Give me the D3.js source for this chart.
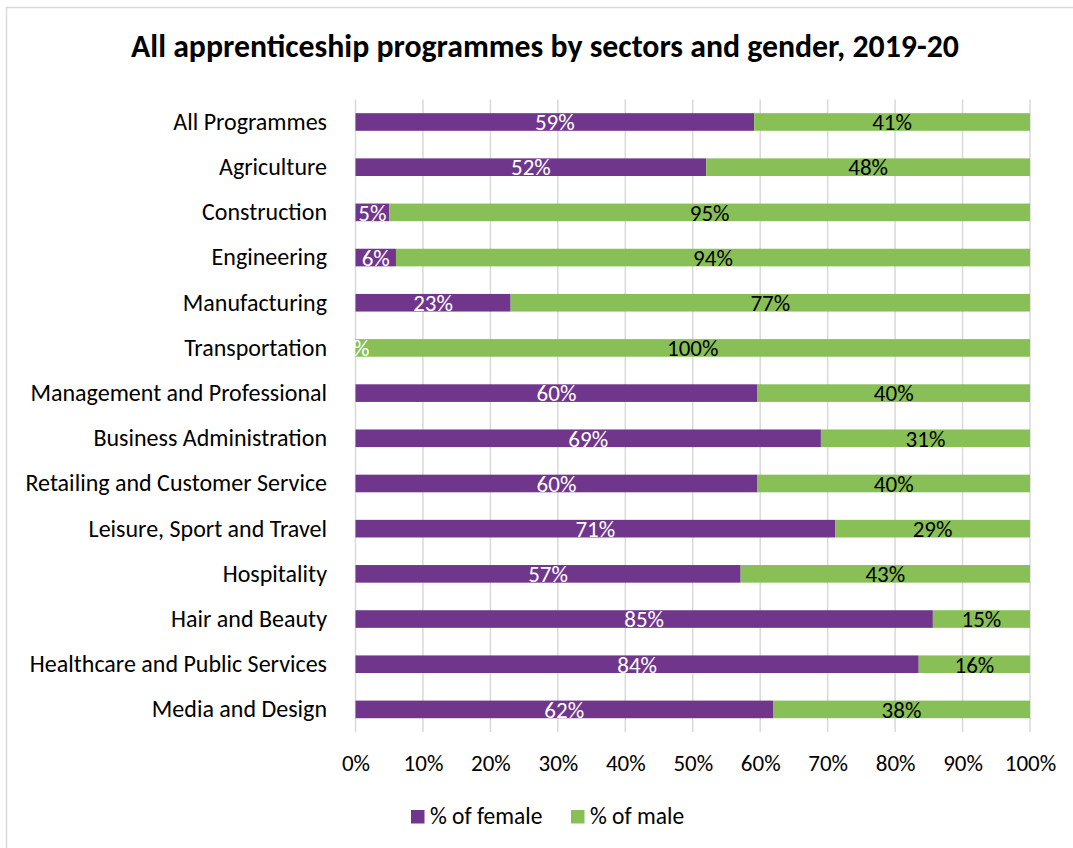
<!DOCTYPE html>
<html>
<head>
<meta charset="utf-8">
<script src="https://cdn.jsdelivr.net/npm/d3@7"></script>
<style>
  html, body { margin: 0; padding: 0; background: #fff; }
  svg { display: block; font-family: Carlito, Calibri, Lato, "Open Sans", sans-serif; }
</style>
</head>
<body>
<svg id="chart" width="1073" height="848"></svg>
<script>
// Apprenticeship programmes by sector, share of female / male, 2019-20
const sectors = [
  "All Programmes", "Agriculture", "Construction", "Engineering", "Manufacturing",
  "Transportation", "Management and Professional", "Business Administration",
  "Retailing and Customer Service", "Leisure, Sport and Travel", "Hospitality",
  "Hair and Beauty", "Healthcare and Public Services", "Media and Design"
];
const femaleShare = [0.591, 0.520, 0.050, 0.060, 0.230, 0.000, 0.596, 0.690, 0.596, 0.711, 0.571, 0.856, 0.835, 0.619];
const maleShare = femaleShare.map(f => 1 - f);
const femaleLabels = ["59%", "52%", "5%", "6%", "23%", "0%", "60%", "69%", "60%", "71%", "57%", "85%", "84%", "62%"];
const maleLabels = ["41%", "48%", "95%", "94%", "77%", "100%", "40%", "31%", "40%", "29%", "43%", "15%", "16%", "38%"];
const tickValues = [0, 0.1, 0.2, 0.3, 0.4, 0.5, 0.6, 0.7, 0.8, 0.9, 1.0];
const seriesNames = ["% of female", "% of male"];
const colors = { female: "#70368b", male: "#88c057" };

const svg = d3.select("#chart");
const W = 1073, H = 848;

// outer frame
svg.append("rect").attr("x", 6.5).attr("y", 7.5).attr("width", W + 10).attr("height", H + 10)
  .attr("fill", "#fff").attr("stroke", "#d9d9d9").attr("stroke-width", 1.5);

svg.append("text").attr("x", 545).attr("y", 57).attr("text-anchor", "middle")
  .attr("font-size", 31.8).attr("font-weight", "bold").attr("fill", "#000")
  .text("All apprenticeship programmes by sectors and gender, 2019-20");

const x = d3.scaleLinear().domain([0, 1]).range([355.5, 1030]);
const y = d3.scaleBand().domain(sectors).range([99.4, 732]).paddingInner(0.61).paddingOuter(0.305);

// vertical gridlines
svg.append("g").selectAll("line").data(tickValues).join("line")
  .attr("x1", d => x(d)).attr("x2", d => x(d))
  .attr("y1", 99.4).attr("y2", 732)
  .attr("stroke", "#d9d9d9").attr("stroke-width", 1.5);

// x axis tick labels
const xAxis = d3.axisBottom(x).tickValues(tickValues).tickFormat(d3.format(".0%")).tickSize(0).tickPadding(0);
const gx = svg.append("g").attr("transform", "translate(0,771)").call(xAxis)
  .attr("font-family", null).attr("font-size", null);
gx.select(".domain").remove();
gx.selectAll("text").attr("font-size", 23).attr("fill", "#000").attr("dy", 0).attr("y", 0);

// y axis category labels
const yAxis = d3.axisLeft(y).tickSize(0).tickPadding(28.5);
const gy = svg.append("g").attr("transform", "translate(355.5,0)").call(yAxis)
  .attr("font-family", null).attr("font-size", null);
gy.select(".domain").remove();
gy.selectAll("text").attr("font-size", 24).attr("fill", "#000").attr("dy", "0.33em");

const rows = sectors.map((s, i) => ({ s, f: femaleShare[i], m: maleShare[i], fl: femaleLabels[i], ml: maleLabels[i] }));

const bars = svg.append("g");
bars.selectAll("rect.f").data(rows).join("rect").attr("class", "f")
  .attr("x", x(0)).attr("y", d => y(d.s)).attr("height", y.bandwidth())
  .attr("width", d => x(d.f) - x(0)).attr("fill", colors.female);
bars.selectAll("rect.m").data(rows).join("rect").attr("class", "m")
  .attr("x", d => x(d.f)).attr("y", d => y(d.s)).attr("height", y.bandwidth())
  .attr("width", d => x(1) - x(d.f)).attr("fill", colors.male);

const labels = svg.append("g").attr("font-size", 23);
labels.selectAll("text.f").data(rows).join("text").attr("class", "f")
  .attr("x", d => x(d.f / 2)).attr("y", d => y(d.s) + y.bandwidth() / 2).attr("dy", "0.36em")
  .attr("text-anchor", "middle").attr("fill", "#fff").text(d => d.fl);
labels.selectAll("text.m").data(rows).join("text").attr("class", "m")
  .attr("x", d => x(d.f + d.m / 2)).attr("y", d => y(d.s) + y.bandwidth() / 2).attr("dy", "0.36em")
  .attr("text-anchor", "middle").attr("fill", "#000").text(d => d.ml);

// legend
const legend = svg.append("g").attr("font-size", 23.5);
const legendItems = [
  { name: seriesNames[0], color: colors.female, x: 411 },
  { name: seriesNames[1], color: colors.male, x: 571 }
];
const li = legend.selectAll("g").data(legendItems).join("g")
  .attr("transform", d => `translate(${d.x},${810})`);
li.append("rect").attr("width", 13.5).attr("height", 13.5).attr("fill", d => d.color);
li.append("text").attr("x", 19).attr("y", 14).attr("fill", "#000").text(d => d.name);
</script>
</body>
</html>
